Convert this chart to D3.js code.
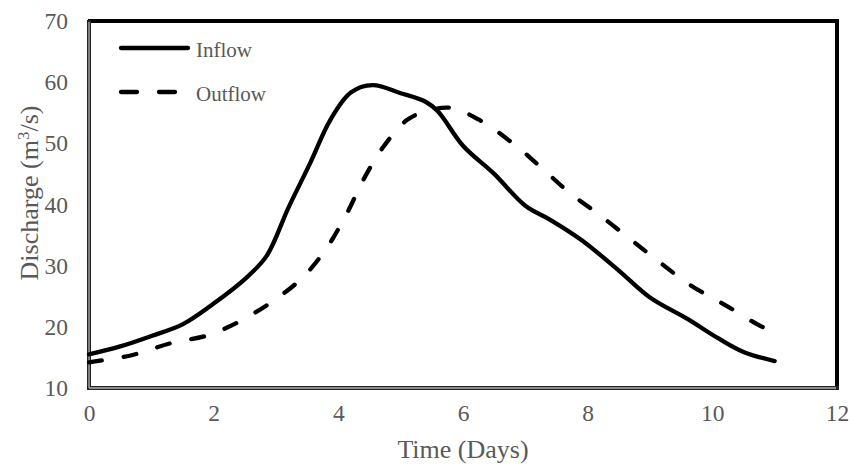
<!DOCTYPE html>
<html><head><meta charset="utf-8">
<script src="https://cdn.jsdelivr.net/npm/d3@7"></script>
<style>body{margin:0;background:#fff}svg{display:block}</style>
</head><body><svg id="c" width="853" height="468"></svg>
<script>
const inflowDays = [0,0.5,1,1.5,2,2.5,2.85,3.2,3.55,3.87,4.2,4.55,5.0,5.4,5.6,6.0,6.5,7.0,7.4,7.9,8.5,9.0,9.6,10.1,10.5,11];
const inflowValues = [15.5,16.8,18.5,20.4,23.8,27.8,31.6,39.5,46.8,53.8,58.3,59.5,58.2,56.8,55.2,49.6,45,39.8,37.5,34.2,29.2,24.8,21.3,18.1,15.9,14.4];
const outflowDays = [0,0.7,1.3,1.9,2.4,2.95,3.43,3.82,4.14,4.4,4.72,5.1,5.4,5.8,6.25,6.8,7.25,7.7,8.2,8.7,9.15,9.65,10.2,10.8,11];
const outflowValues = [14.2,15.4,17.3,18.6,20.8,24.2,28.1,33,38.6,44,49.4,53.8,55.2,55.8,53.9,50,46.1,42,38.2,34.2,30.6,26.8,23.6,20,19.3];
const xTicks = [0,2,4,6,8,10,12];
const yTicks = [10,20,30,40,50,60,70];
const seriesNames = ["Inflow","Outflow"];

const svg = d3.select("#c");
const L=89,R=837,T=21,B=388;
const x = d3.scaleLinear().domain([0,12]).range([L,R]);
const y = d3.scaleLinear().domain([10,70]).range([B,T]);
const txt = "#595959", font = "Liberation Serif, Times New Roman, serif";

// axes (labels only)
const xa = svg.append("g").attr("transform",`translate(0,${B})`)
  .call(d3.axisBottom(x).tickValues(xTicks).tickSize(0).tickPadding(16).tickFormat(d3.format("d")));
const ya = svg.append("g").attr("transform",`translate(${L},0)`)
  .call(d3.axisLeft(y).tickValues(yTicks).tickSize(0).tickPadding(21).tickFormat(d3.format("d")));
[xa,ya].forEach(a=>{a.select(".domain").remove();
  a.selectAll("text").attr("fill",txt).style("font-family",font).style("font-size","23.5px");});

// plot frame
svg.append("line").attr("x1",L-1).attr("x2",R+2).attr("y1",T).attr("y2",T).attr("stroke","#000").attr("stroke-width",4);
svg.append("line").attr("x1",R).attr("x2",R).attr("y1",T-2).attr("y2",B+1).attr("stroke","#000").attr("stroke-width",4);
svg.append("line").attr("x1",L).attr("x2",L).attr("y1",T-1).attr("y2",B+2).attr("stroke","#222").attr("stroke-width",4);
svg.append("line").attr("x1",L-2).attr("x2",R+2).attr("y1",B).attr("y2",B).attr("stroke","#222").attr("stroke-width",4);
svg.append("line").attr("x1",L).attr("x2",L).attr("y1",T+1).attr("y2",B).attr("stroke","#b0b0b0").attr("stroke-width",1.3);
svg.append("line").attr("x1",L).attr("x2",R-1).attr("y1",B).attr("y2",B).attr("stroke","#b0b0b0").attr("stroke-width",1.3);

const line = d3.line().x(d=>x(d[0])).y(d=>y(d[1])).curve(d3.curveCatmullRom.alpha(0.5));
const inflow = inflowDays.map((d,i)=>[d,inflowValues[i]]);
const outflow = outflowDays.map((d,i)=>[d,outflowValues[i]]);
svg.append("path").datum(outflow).attr("d",line).attr("fill","none").attr("stroke","#000")
  .attr("stroke-width",4.3).attr("stroke-linecap","round").attr("stroke-dasharray","13,22");
svg.append("path").datum(inflow).attr("d",line).attr("fill","none").attr("stroke","#000")
  .attr("stroke-width",4.3).attr("stroke-linecap","round");

// legend
svg.append("line").attr("x1",121).attr("x2",188).attr("y1",48).attr("y2",48).attr("stroke","#000").attr("stroke-width",4.3).attr("stroke-linecap","round");
svg.append("line").attr("x1",121).attr("x2",175).attr("y1",92).attr("y2",92).attr("stroke","#000").attr("stroke-width",4.3).attr("stroke-linecap","round").attr("stroke-dasharray","16,22");
svg.selectAll(".lg").data(seriesNames).enter().append("text")
  .attr("x",196).attr("y",(d,i)=>56.5+i*44.5).text(d=>d)
  .attr("fill",txt).style("font-family",font).style("font-size","21px");

// titles
svg.append("text").attr("x",(L+R)/2).attr("y",458).attr("text-anchor","middle").text("Time (Days)")
  .attr("fill",txt).style("font-family",font).style("font-size","26px");
const yt = svg.append("text").attr("transform",`translate(38,193) rotate(-90)`).attr("text-anchor","middle")
  .attr("fill",txt).style("font-family",font).style("font-size","26px");
yt.append("tspan").text("Discharge (m");
yt.append("tspan").text("3").attr("dy",-9).style("font-size","17px");
yt.append("tspan").text("/s)").attr("dy",9);
</script></body></html>
